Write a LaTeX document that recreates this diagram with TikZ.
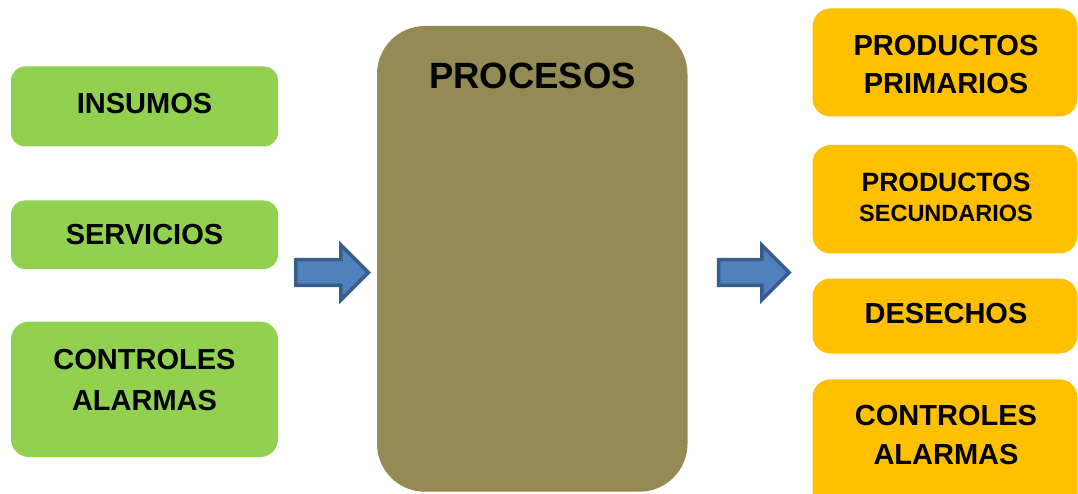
\documentclass[tikz,border=0pt]{standalone}
\usepackage{fontspec}
\setmainfont{Liberation Sans}
\usetikzlibrary{shapes.arrows}

\definecolor{inputgreen}{HTML}{92D050}
\definecolor{outputgold}{HTML}{FFC000}
\definecolor{processolive}{HTML}{948A54}
\definecolor{arrowfill}{HTML}{4F81BD}
\definecolor{arrowedge}{HTML}{385D8A}

\tikzset{
  panel/.style={draw=none, rounded corners=#1, inner sep=0pt, outer sep=0pt},
  inbox/.style={panel=14pt, fill=inputgreen},
  outbox/.style={panel=18pt, fill=outputgold},
  procbox/.style={panel=48pt, fill=processolive},
  caption/.style={anchor=base, inner sep=0pt, font=\bfseries\fontsize{29}{34}\selectfont},
  bigcaption/.style={caption, font=\bfseries\fontsize{36.5}{42}\selectfont},
  flowarrow/.style={single arrow, draw=arrowedge, fill=arrowfill, line width=3.5pt,
    single arrow head extend=14.5pt, single arrow tip angle=90,
    inner xsep=0pt, inner ysep=11.2pt, outer sep=0pt, anchor=tail}
}

\begin{document}
\begin{tikzpicture}[x=1pt, y=-1pt]
  \useasboundingbox (0,0) rectangle (1078,494);

  % inputs
  \draw[inbox] (11,66.5) rectangle (278,146.5) coordinate (inA);
  \draw[inbox] (11,200.5) rectangle (278,269) coordinate (inB);
  \draw[inbox, rounded corners=18pt] (11,321.5) rectangle (278,457) coordinate (inC);
  \node[caption] (insumos) at (144.5,113.3) {INSUMOS};
  \node[caption] (servicios) at (144.5,245) {SERVICIOS};
  \node[caption] (inctrl) at (144.5,369.3) {CONTROLES};
  \node[caption] (inalarm) at (144.5,410) {ALARMAS};

  % process block
  \draw[procbox] (377,26) rectangle (687.5,491.7) coordinate (procC);
  \node[bigcaption] (procesos) at (532.5,89) {PROCESOS};

  % outputs
  \draw[outbox] (812.5,8.5) rectangle (1077.5,116.5) coordinate (outA);
  \draw[outbox] (812.5,145) rectangle (1077.5,253.5) coordinate (outB);
  \draw[outbox] (812.5,278.5) rectangle (1077.5,353.5) coordinate (outC);
  \draw[outbox] (812.5,379.3) rectangle (1077.5,520) coordinate (outD);
  \node[caption] (prodp) at (946,56) {PRODUCTOS};
  \node[caption] (prim) at (946,94) {PRIMARIOS};
  \node[caption, font=\bfseries\fontsize{26.5}{30}\selectfont] (prods) at (946,191.7) {PRODUCTOS};
  \node[caption, font=\bfseries\fontsize{23.5}{28}\selectfont] (secund) at (946,221.7) {SECUNDARIOS};
  \node[caption] (desechos) at (946,323.3) {DESECHOS};
  \node[caption] (outctrl) at (946,425) {CONTROLES};
  \node[caption] (outalarm) at (946,464) {ALARMAS};

  % flow arrows
  \node[flowarrow, minimum height=72.5pt] (flowin) at (295.8,272.5) {};
  \node[flowarrow, minimum height=70.7pt] (flowout) at (718.5,272.5) {};
\end{tikzpicture}
\end{document}
